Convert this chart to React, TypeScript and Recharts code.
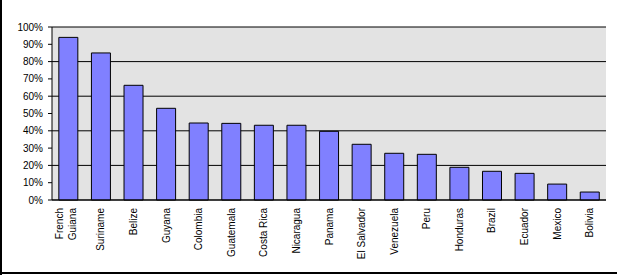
import { Bar, BarChart, CartesianGrid, XAxis, YAxis } from "recharts";

const COUNTRIES = [
  "French Guiana",
  "Suriname",
  "Belize",
  "Guyana",
  "Colombia",
  "Guatemala",
  "Costa Rica",
  "Nicaragua",
  "Panama",
  "El Salvador",
  "Venezuela",
  "Peru",
  "Honduras",
  "Brazil",
  "Ecuador",
  "Mexico",
  "Bolivia",
];

// percent of land area
const SHARES = [94, 85, 66.3, 53, 44.5, 44.3, 43.2, 43.2, 39.7, 32.2, 27, 26.4, 18.9, 16.6, 15.4, 9.2, 4.6];

const Y_TICKS = [0, 10, 20, 30, 40, 50, 60, 70, 80, 90, 100];
const EDGE_TICKS = COUNTRIES.map((_, i) => i).concat(COUNTRIES.length);

const FONT = "'Liberation Sans', Arial, sans-serif";

const data = COUNTRIES.map((name, i) => ({ name, share: SHARES[i] }));

function CountryTick(props: any) {
  const { x, y, payload } = props;
  const words: string[] = payload.value === "French Guiana" ? ["French", "Guiana"] : [payload.value];
  return (
    <g transform={`translate(${x},${y + 8})`}>
      <text transform="rotate(-90)" textAnchor="end" fontSize={10} fontFamily={FONT} fill="#000">
        {words.length === 1 ? (
          <tspan x={0} y={3.5}>
            {words[0]}
          </tspan>
        ) : (
          words.map((w, i) => (
            <tspan key={w} x={0} y={i === 0 ? -5 : 8}>
              {w}
            </tspan>
          ))
        )}
      </text>
    </g>
  );
}

export default function App() {
  return (
    <div style={{ position: "absolute", left: 0, top: 0, width: 617, height: 275, background: "#fff" }}>
      <BarChart
        width={617}
        height={275}
        data={data}
        margin={{ top: 27, right: 11, left: 0, bottom: 0 }}
        barCategoryGap="21%"
      >
        <CartesianGrid
          xAxisId="cat"
          yAxisId="left"
          fill="#E3E3E3"
          stroke="#000"
          vertical={false}
          strokeOpacity={1}
        />
        <XAxis
          xAxisId="edge"
          type="number"
          domain={[0, COUNTRIES.length]}
          ticks={EDGE_TICKS}
          height={0}
          axisLine={false}
          tickLine={{ stroke: "#000" }}
          tickSize={4}
          tickFormatter={() => ""}
        />
        <XAxis
          xAxisId="cat"
          dataKey="name"
          interval={0}
          height={75}
          axisLine={{ stroke: "#000" }}
          tickLine={false}
          tickSize={0}
          tickMargin={0}
          tick={<CountryTick />}
        />
        <XAxis
          xAxisId="top"
          orientation="top"
          type="number"
          domain={[0, 1]}
          height={0}
          axisLine={{ stroke: "#808080" }}
          tickLine={false}
          tick={false}
        />
        <YAxis
          yAxisId="left"
          domain={[0, 100]}
          ticks={Y_TICKS}
          width={52}
          axisLine={{ stroke: "#000" }}
          tickLine={{ stroke: "#000" }}
          tickSize={4}
          tickMargin={5}
          tickFormatter={(v) => `${v}%`}
          tick={{ fontSize: 10, fontFamily: FONT, fill: "#000" }}
        />
        <YAxis
          yAxisId="right"
          orientation="right"
          domain={[0, 100]}
          width={0}
          axisLine={{ stroke: "#808080" }}
          tickLine={false}
          tick={false}
        />
        <Bar
          xAxisId="cat"
          yAxisId="left"
          dataKey="share"
          fill="#8080FF"
          stroke="#000"
          strokeWidth={1}
          isAnimationActive={false}
        />
      </BarChart>
      <div style={{ position: "absolute", left: 0, top: 0, width: 2, height: 275, background: "#000" }} />
      <div style={{ position: "absolute", left: 0, top: 272, width: 617, height: 2, background: "#000" }} />
    </div>
  );
}
